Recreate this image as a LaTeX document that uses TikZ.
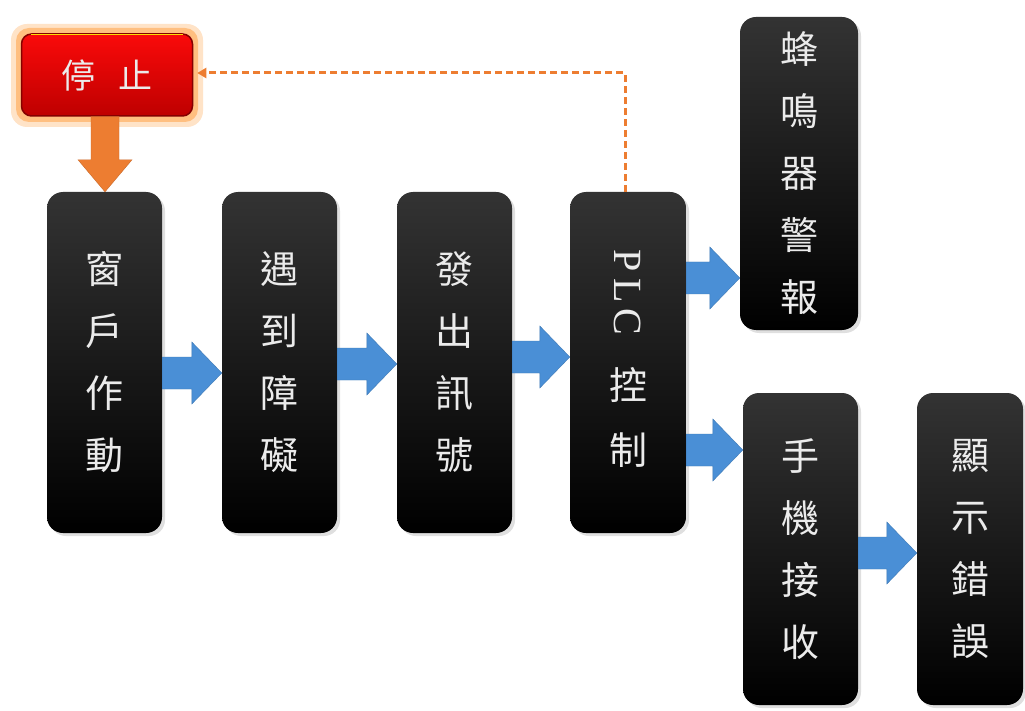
\documentclass[tikz,border=0pt]{standalone}
\usepackage{fontspec}
\setmainfont{Liberation Serif}
\newfontfamily\cjk{Noto Sans CJK TC}
\usetikzlibrary{calc,shadows,arrows.meta}
\definecolor{arrblue}{RGB}{74,143,214}
\definecolor{dashorange}{RGB}{237,125,49}
\definecolor{stopred}{RGB}{250,10,10}
\definecolor{stopdark}{RGB}{190,0,0}
\definecolor{txtgray}{RGB}{235,235,235}
\newcommand\barrow[3]{%
  \coordinate (s) at ($(#1.east)+(0,#3)$);
  \coordinate (t) at (s -| #2.west);
  \fill[arrblue, draw=arrblue!85!black, line width=0.4pt]
    ($(s)+(0,-16)$) -- ($(t)+(-30,-16)$) -- ($(t)+(-30,-31)$) -- (t)
    -- ($(t)+(-30,31)$) -- ($(t)+(-30,16)$) -- ($(s)+(0,16)$) -- cycle;}
\begin{document}
\begin{tikzpicture}[x=1pt,y=-1pt,
  box/.style={rectangle, rounded corners=16pt, top color=black!80, middle color=black, bottom color=black,
    drop shadow={shadow xshift=3pt, shadow yshift=-3pt, opacity=0.25},
    text=txtgray, align=center, inner sep=0pt,
    font=\cjk\fontsize{38}{62}\selectfont},
  boxtext/.style={text=txtgray, align=center, inner sep=0pt, font=\cjk\fontsize{38}{65}\selectfont},
  stopbox/.style={rectangle, rounded corners=10pt, top color=stopred, bottom color=stopdark,
    draw=stopdark!70!black, line width=1.5pt, text=txtgray,
    font=\cjk\fontsize{34}{40}\selectfont, minimum width=171pt, minimum height=82pt}]
\useasboundingbox (0,0) rectangle (1025,711);
\fill[white] (0,0) rectangle (1025,711);

% glow behind stop box
\fill[orange!22, rounded corners=16pt] (11,24) rectangle (203,127);
\fill[orange!50, rounded corners=13pt] (16,28) rectangle (198,122);
\node[stopbox] (stop) at (107,75) {停\hspace{0.7em}止};
\draw[yellow!80!orange, line width=1.2pt] ($(stop.north west)+(10,1)$) -- ($(stop.north east)+(-10,1)$);

% black boxes
\node[box, minimum width=115pt, minimum height=341pt] (b1) at (104.5,362.5) {窗\\戶\\作\\動};
\node[box, minimum width=115pt, minimum height=341pt] (b2) at (279.5,362.5) {遇\\到\\障\\礙};
\node[box, minimum width=115pt, minimum height=341pt] (b3) at (454.5,362.5) {發\\出\\訊\\號};
\node[box, minimum width=116pt, minimum height=341pt] (b4) at (628,362.5) {};
\node[rotate=-90, text=txtgray, inner sep=0pt, font=\rmfamily\fontsize{40}{40}\selectfont]
  (plc) at ($(b4.center)+(0,-70)$) {P\hspace{0.15em}L\hspace{0.15em}C};
\node[boxtext] (ctl) at ($(b4.center)+(0,55)$) {控\\制};
\node[box, minimum width=118pt, minimum height=313pt] (b5) at (799,173.5) {蜂\\鳴\\器\\警\\報};
\node[box, minimum width=115pt, minimum height=312pt] (b6) at (800.5,549) {手\\機\\接\\收};
\node[box, minimum width=106pt, minimum height=312pt] (b7) at (970,549) {顯\\示\\錯\\誤};

% blue block arrows
\barrow{b1}{b2}{10.5}
\barrow{b2}{b3}{1.5}
\barrow{b3}{b4}{-5.5}
\barrow{b4}{b5}{-84.5}
\barrow{b4}{b6}{87.5}
\barrow{b6}{b7}{4}

% orange block arrow from stop to first box
\coordinate (os) at (stop.south -| 105,0);
\coordinate (ot) at (b1.north -| 105,0);
\fill[dashorange, draw=dashorange!85!black, line width=0.4pt]
  ($(os)+(-14,0)$) -- ($(ot)+(-14,-32)$) -- ($(ot)+(-27,-32)$) -- (ot)
  -- ($(ot)+(27,-32)$) -- ($(ot)+(14,-32)$) -- ($(os)+(14,0)$) -- cycle;

% dashed feedback line
\coordinate (d0) at ($(b4.north)+(-3,0)$);
\coordinate (d2) at ($(stop.east)+(4,-2)$);
\coordinate (d1) at (d0 |- d2);
\draw[dashorange, line width=3pt, dash pattern=on 7pt off 4pt,
  -{Triangle[length=9pt,width=10pt]}]
  (d0) -- (d1) -- (d2);
\end{tikzpicture}
\end{document}
